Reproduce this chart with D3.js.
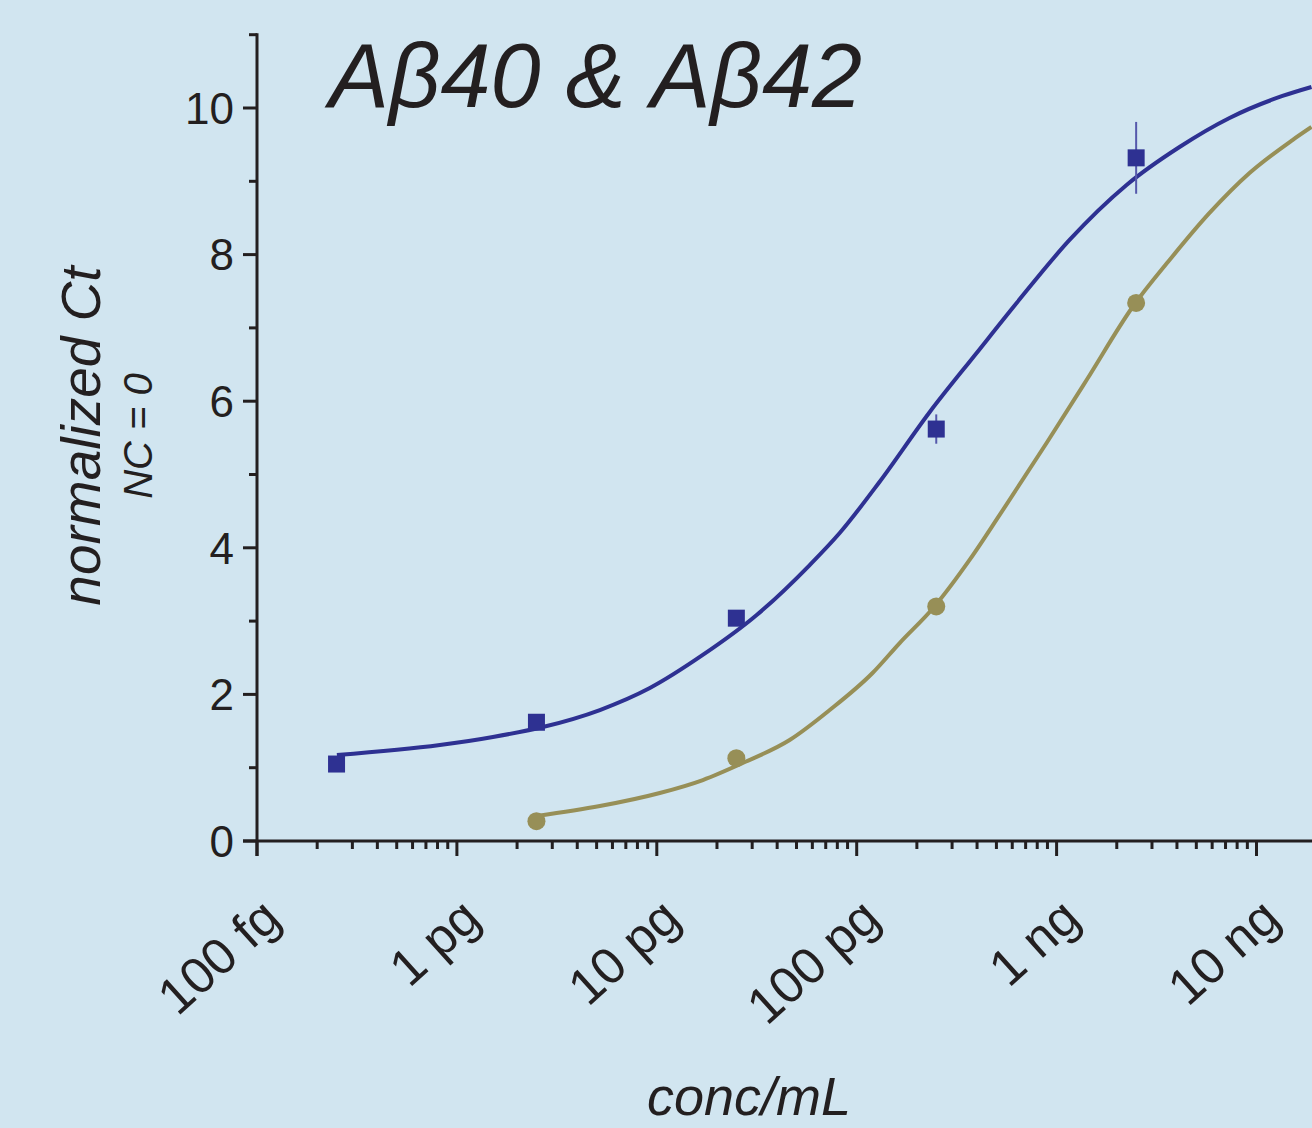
<!DOCTYPE html>
<html><head><meta charset="utf-8">
<script src="https://cdn.jsdelivr.net/npm/d3@7/dist/d3.min.js"></script>
<style>
html,body{margin:0;padding:0;background:#d1e5f0;}
svg{display:block;}
text{font-family:"Liberation Sans",Arial,Helvetica,sans-serif;fill:#231f20;}
</style></head>
<body>
<script>
// concentration in pg/mL
const xTickValues = [0.1, 1, 10, 100, 1000, 10000];
const xTickLabels = ["100 fg", "1 pg", "10 pg", "100 pg", "1 ng", "10 ng"];
const yTickValues = [0, 2, 4, 6, 8, 10];

// measured points
const ab40Conc = [0.25, 2.5, 25, 250, 2500];
const ab40Ct   = [1.05, 1.62, 3.04, 5.62, 9.32];
const ab40Err  = [0, 0, 0, 0.2, 0.49];
const ab42Conc = [2.5, 25, 250, 2500];
const ab42Ct   = [0.27, 1.13, 3.2, 7.34];

// fitted curves
const ab40FitConc = [0.251, 0.822, 1.514, 2.69, 5.19, 9.23, 16.98, 31.6, 58.2, 82.2, 130, 232, 398, 631, 1161, 2239, 4121, 7328, 13490, 18840];
const ab40FitCt   = [1.173, 1.31, 1.419, 1.555, 1.787, 2.087, 2.538, 3.083, 3.765, 4.202, 4.898, 5.853, 6.658, 7.34, 8.2, 8.95, 9.468, 9.864, 10.164, 10.287];
const ab42FitConc = [2.51, 5.19, 10.35, 17.0, 26.9, 46.2, 73.3, 120, 164, 245, 367, 519, 891, 1413, 2399, 3673, 5821, 9226, 15136, 18840];
const ab42FitCt   = [0.341, 0.477, 0.655, 0.832, 1.064, 1.378, 1.787, 2.292, 2.701, 3.2, 3.834, 4.448, 5.43, 6.289, 7.285, 7.926, 8.568, 9.113, 9.563, 9.741];

const W = 1312, H = 1128;
const blue = "#2e3192", gold = "#978f57", ink = "#231f20";

const svg = d3.select("body").append("svg").attr("width", W).attr("height", H);
svg.append("rect").attr("width", W).attr("height", H).attr("fill", "#d1e5f0");

const x = d3.scaleLog().domain([0.1, 10000]).range([257, 1256.5]);
const y = d3.scaleLinear().domain([0, 11]).range([841, 34.7]);

// minor ticks
const xMinor = [];
for (let d = 0.1; d < 20000; d *= 10) for (let k = 2; k <= 9; k++) { const v = d * k; if (x(v) < W) xMinor.push(v); }
const yMinor = [1, 3, 5, 7, 9, 11];

const gAx = svg.append("g");
// axis lines
gAx.append("line").attr("x1", 243).attr("x2", W).attr("y1", y(0)).attr("y2", y(0)).attr("stroke", ink).attr("stroke-width", 3);
gAx.append("line").attr("x1", x(0.1)).attr("x2", x(0.1)).attr("y1", y(11) - 1.5).attr("y2", 856).attr("stroke", ink).attr("stroke-width", 3);

// x ticks
gAx.selectAll(".xmaj").data(xTickValues).join("line")
  .attr("x1", d => x(d)).attr("x2", d => x(d)).attr("y1", y(0)).attr("y2", y(0) + 15)
  .attr("stroke", ink).attr("stroke-width", 3);
gAx.selectAll(".xmin").data(xMinor).join("line")
  .attr("x1", d => x(d)).attr("x2", d => x(d)).attr("y1", y(0)).attr("y2", y(0) + 8)
  .attr("stroke", ink).attr("stroke-width", 3);
// y ticks
gAx.selectAll(".ymaj").data(yTickValues).join("line")
  .attr("x1", 243).attr("x2", x(0.1)).attr("y1", d => y(d)).attr("y2", d => y(d))
  .attr("stroke", ink).attr("stroke-width", 3);
gAx.selectAll(".ymin").data(yMinor).join("line")
  .attr("x1", 249).attr("x2", x(0.1)).attr("y1", d => y(d)).attr("y2", d => y(d))
  .attr("stroke", ink).attr("stroke-width", 3);

// y tick labels
gAx.selectAll(".ylab").data(yTickValues).join("text")
  .attr("x", 234).attr("y", d => y(d)).attr("dy", "0.36em")
  .attr("text-anchor", "end").attr("font-size", 44).text(d => d);

// x tick labels (rotated)
gAx.selectAll(".xlab").data(xTickValues).join("text")
  .attr("transform", d => `translate(${x(d) + 26},${922}) rotate(-42)`)
  .attr("text-anchor", "end").attr("font-size", 51)
  .text((d, i) => xTickLabels[i]);

// axis titles
svg.append("text").attr("x", 749).attr("y", 1115).attr("text-anchor", "middle")
  .attr("font-size", 54).attr("font-style", "italic").text("conc/mL");
svg.append("text").attr("transform", "translate(100,436) rotate(-90)").attr("text-anchor", "middle")
  .attr("font-size", 55).attr("font-style", "italic").text("normalized Ct");
svg.append("text").attr("transform", "translate(152,436) rotate(-90)").attr("text-anchor", "middle")
  .attr("font-size", 40).attr("font-style", "italic").text("NC = 0");

// title
svg.append("text").attr("x", 329).attr("y", 107).attr("font-size", 90).attr("font-style", "italic")
  .text("Aβ40 & Aβ42");

// curves
const line = d3.line().x(d => x(d[0])).y(d => y(d[1])).curve(d3.curveMonotoneX);
svg.append("path").datum(ab40FitConc.map((c, i) => [c, ab40FitCt[i]]))
  .attr("d", line).attr("fill", "none").attr("stroke", blue).attr("stroke-width", 4);
svg.append("path").datum(ab42FitConc.map((c, i) => [c, ab42FitCt[i]]))
  .attr("d", line).attr("fill", "none").attr("stroke", gold).attr("stroke-width", 4);

// error bars
svg.selectAll(".err").data(ab40Conc.map((c, i) => [c, ab40Ct[i], ab40Err[i]]).filter(d => d[2] > 0)).join("line")
  .attr("x1", d => x(d[0])).attr("x2", d => x(d[0]))
  .attr("y1", d => y(d[1] + d[2])).attr("y2", d => y(d[1] - d[2]))
  .attr("stroke", "#5558ab").attr("stroke-width", 2);

// markers
const s = 17;
svg.selectAll(".sq").data(ab40Conc.map((c, i) => [c, ab40Ct[i]])).join("rect")
  .attr("x", d => x(d[0]) - s / 2).attr("y", d => y(d[1]) - s / 2)
  .attr("width", s).attr("height", s).attr("fill", blue);
svg.selectAll(".ci").data(ab42Conc.map((c, i) => [c, ab42Ct[i]])).join("circle")
  .attr("cx", d => x(d[0])).attr("cy", d => y(d[1])).attr("r", 9).attr("fill", gold);
</script>
</body></html>
